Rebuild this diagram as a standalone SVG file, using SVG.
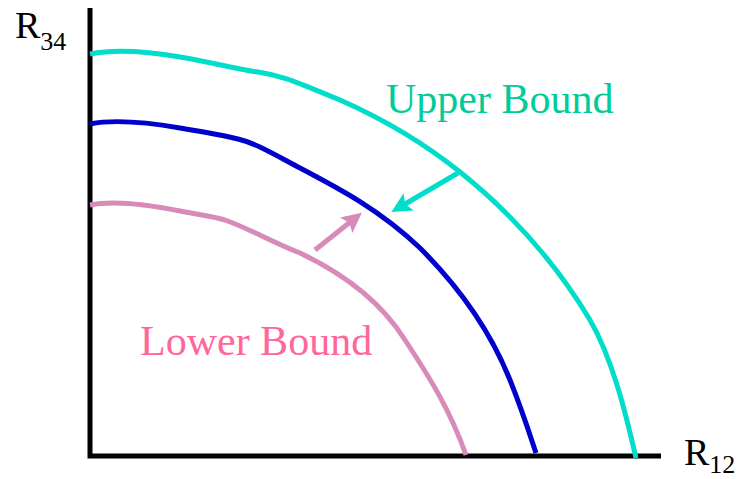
<svg xmlns="http://www.w3.org/2000/svg" width="748" height="479" viewBox="0 0 748 479">
<style>
text{font-family:"Liberation Serif","Times New Roman",serif;font-size:38px}
.l{font-size:42px}
.s{font-size:26px}
.c{fill:none;stroke-width:5;stroke-linecap:butt}
</style>
<defs>
<marker id="ac" markerWidth="4" markerHeight="4" refX="2" refY="2" orient="auto" markerUnits="strokeWidth"><path d="M0,0 L4,2 L0,4 L0.8,2 z" fill="#00DDC8"/></marker>
<marker id="ap" markerWidth="4" markerHeight="4" refX="2" refY="2" orient="auto" markerUnits="strokeWidth"><path d="M0,0 L4,2 L0,4 L0.8,2 z" fill="#D88AB8"/></marker>
</defs>
<rect width="748" height="479" fill="#fff"/>
<g id="axes">
<path d="M90,8 V456 H661" fill="none" stroke="#000" stroke-width="5"/>
<text x="15" y="38">R<tspan class="s" dy="12">34</tspan></text>
<text x="684" y="465">R<tspan class="s" dy="8">12</tspan></text>
</g>
<g id="upper">
<path class="c" stroke="#00DDC8" d="M90,54 C110,50 140,50 180,57 C215,63 240,70 258,72 C285,76 300,84 340,100 C390,122 430,148 460,172 C520,220 560,270 590,320 C612,358 625,410 636,458"/>
<text class="l" x="386" y="113" fill="#00CC99">Upper Bound</text>
</g>
<g id="middle">
<path class="c" stroke="#0000CC" d="M90,124 C110,120 140,121 180,128 C210,133 230,137 238,139 C255,143 270,152 300,168 C340,189 380,210 420,248 C460,288 490,330 510,380 C522,410 530,435 536,453"/>
</g>
<g id="lower">
<path class="c" stroke="#D88AB8" d="M90,205 C110,201 140,203 180,211 C200,215 212,216 225,220 C250,229 270,241 300,253 C340,272 380,300 405,340 C430,378 450,410 466,455"/>
<text class="l" x="140" y="355" fill="#FF6699">Lower Bound</text>
</g>
<g id="connectors">
<line x1="458" y1="173" x2="400" y2="207" stroke="#00DDC8" stroke-width="5" marker-end="url(#ac)"/>
<line x1="315" y1="250" x2="354" y2="219" stroke="#D88AB8" stroke-width="5" marker-end="url(#ap)"/>
</g>
</svg>
